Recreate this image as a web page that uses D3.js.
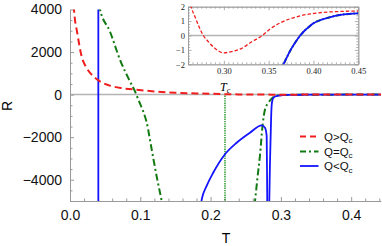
<!DOCTYPE html>
<html><head><meta charset="utf-8">
<script src="https://cdn.jsdelivr.net/npm/d3@7"></script>
<style>body{margin:0;background:#fff}svg{display:block}</style>
</head><body>
<svg id="c" width="382" height="246"></svg>
<script>
// ---- data (T, R) ----
const redQgt = [[0.0050,4700],[0.0057,4000],[0.0104,2885],[0.0166,1790],[0.0237,1250],[0.0332,860],[0.0427,620],[0.057,420],[0.075,300],[0.098,220],[0.12,150],[0.15,85],[0.18,55],[0.20,38],[0.22,22],[0.24,10],[0.255,4.5],[0.2634,2],[0.2678,1.3],[0.2771,0],[0.2827,-0.43],[0.290,-0.89],[0.2995,-1.2],[0.3088,-1.12],[0.32,-0.89],[0.3312,-0.43],[0.343,0],[0.3517,0.46],[0.362,0.85],[0.374,1.16],[0.385,1.36],[0.3964,1.5],[0.41,1.6],[0.426,1.66],[0.45,1.7]];
const greenLeft = [[0.0410,4250],[0.0427,4000],[0.0569,2960],[0.0711,1640],[0.0853,620],[0.0925,150],[0.098,-300],[0.1038,-760],[0.109,-1300],[0.1166,-2650],[0.1233,-3850],[0.1304,-5000],[0.1315,-5200]];
const greenRight = [[0.2625,-5200],[0.2632,-5000],[0.2667,-3900],[0.2703,-2840],[0.2741,-1400],[0.2774,-700],[0.2821,-390],[0.2869,-190],[0.294,-50],[0.30,-25],[0.31,-15],[0.32,-9],[0.33,-6],[0.345,-3.5],[0.36,-2.5],[0.3665,-2],[0.37,-1.55],[0.375,-0.95],[0.38,-0.45],[0.3852,0],[0.39,0.33],[0.395,0.6],[0.40,0.85],[0.41,1.12],[0.42,1.3],[0.43,1.43],[0.44,1.5],[0.45,1.54]];
const bluePole = [[0.0403,4200],[0.0403,-5200]];
const blueMid = [[0.1860,-5200],[0.1873,-4945],[0.1944,-4290],[0.2039,-3660],[0.2205,-2800],[0.2371,-2260],[0.256,-1790],[0.2727,-1450],[0.2774,-1560],[0.2798,-1950],[0.2806,-4950],[0.2807,-5200]];
const blueRight = [[0.2834,-5200],[0.2835,-5000],[0.2845,-3200],[0.2855,-1900],[0.2862,-1000],[0.2869,-500],[0.2880,-260],[0.2892,-155],[0.2925,-80],[0.2963,-50],[0.302,-28],[0.31,-15],[0.32,-9],[0.33,-6],[0.345,-3.5],[0.36,-2.5],[0.3665,-2],[0.37,-1.55],[0.375,-0.95],[0.38,-0.45],[0.3852,0],[0.39,0.33],[0.395,0.6],[0.40,0.85],[0.41,1.12],[0.42,1.3],[0.43,1.43],[0.44,1.5],[0.45,1.54]];
const Tc = 0.2205;
const xTicks = [0, 0.1, 0.2, 0.3, 0.4];
const yTicks = [-4000, -2000, 0, 2000, 4000];
const insetXTicks = [0.30, 0.35, 0.40, 0.45];
const insetYTicks = [-2, -1, 0, 1, 2];
const legendLabels = [["Q>Q","c"],["Q=Q","c"],["Q<Q","c"]];

const RED = "#f01e1e", GREEN = "#127a12", BLUE = "#1414ff", AX = "#9a9a9a", ZERO = "#b4b4b4";

const svg = d3.select("#c");
const x = d3.scaleLinear().domain([0, 0.442]).range([70, 380.7]);
const y = d3.scaleLinear().domain([-5000, 4000]).range([201, 9.5]);

svg.append("clipPath").attr("id","mc").append("rect")
  .attr("x",70).attr("y",9.5).attr("width",311).attr("height",191.5);

// zero line
svg.append("line").attr("x1",70).attr("x2",381).attr("y1",y(0)).attr("y2",y(0))
  .attr("stroke",ZERO).attr("stroke-width",1.5);

// axes
svg.append("g").attr("transform",`translate(0,${y(-5000)})`)
  .call(d3.axisBottom(x).tickValues(xTicks).tickFormat(d3.format(".1f")).tickSizeInner(-4).tickSizeOuter(0).tickPadding(9));
svg.append("g").attr("transform",`translate(${x(0)},0)`)
  .call(d3.axisLeft(y).tickValues(yTicks).tickFormat(d3.format("d")).tickSizeInner(-4).tickSizeOuter(0).tickPadding(8));
// minor ticks
const xMinor = d3.range(0, 0.4421, 0.02).filter(v => !xTicks.some(t => Math.abs(t-v)<1e-9));
const yMinor = d3.range(-5000, 4001, 500).filter(v => !yTicks.includes(v));
svg.append("g").attr("transform",`translate(0,${y(-5000)})`)
  .call(d3.axisBottom(x).tickValues(xMinor).tickFormat("").tickSizeInner(-2.5).tickSizeOuter(0));
svg.append("g").attr("transform",`translate(${x(0)},0)`)
  .call(d3.axisLeft(y).tickValues(yMinor).tickFormat("").tickSizeInner(-2.5).tickSizeOuter(0));
svg.selectAll(".domain, .tick line").attr("stroke",AX);
svg.selectAll(".tick text").attr("font-family","'Liberation Sans', Arial, sans-serif")
  .attr("font-size",14).attr("fill","#111");

// axis titles
svg.append("text").attr("x",226).attr("y",243).attr("text-anchor","middle")
  .attr("font-family","'Liberation Sans', Arial, sans-serif").attr("font-size",14).text("T");
svg.append("text").attr("transform","translate(12,106) rotate(-90)").attr("text-anchor","middle")
  .attr("font-family","'Liberation Sans', Arial, sans-serif").attr("font-size",14).text("R");

// Tc line
const xtc = x(Tc);
svg.append("line").attr("x1",xtc).attr("x2",xtc).attr("y1",y(0)+1).attr("y2",y(-5000))
  .attr("stroke","#1c921c").attr("stroke-width",1.4).attr("stroke-dasharray","1.4,0.9");
const tcl = svg.append("text").attr("x",x(Tc)-5).attr("y",91)
  .attr("font-family","'Liberation Serif', serif").attr("font-style","italic").attr("font-size",12);
tcl.append("tspan").text("T");
tcl.append("tspan").attr("font-size",8).attr("dy",2).text("c");

// curves main
const mline = d3.line().x(d=>x(d[0])).y(d=>y(d[1])).curve(d3.curveMonotoneX);
const lin = d3.line().x(d=>x(d[0])).y(d=>y(d[1]));
const mc = svg.append("g").attr("clip-path","url(#mc)");
const gStyle = {stroke:GREEN,"stroke-width":2,"stroke-dasharray":"7,3,2,3",fill:"none"};
const bStyle = {stroke:BLUE,"stroke-width":1.8,fill:"none"};
const rStyle = {stroke:RED,"stroke-width":2,"stroke-dasharray":"7,4",fill:"none"};
function sty(sel, s){ for (const k in s) sel.attr(k, s[k]); return sel; }
sty(mc.append("path").attr("d", mline(greenLeft)), gStyle);
sty(mc.append("path").attr("d", mline(greenRight)), gStyle);
sty(mc.append("path").attr("d", lin(bluePole)), bStyle);
sty(mc.append("path").attr("d", mline(blueMid)), bStyle);
sty(mc.append("path").attr("d", mline(blueRight)), bStyle);
sty(mc.append("path").attr("d", mline(redQgt)), rStyle);

// legend
const lg = svg.append("g");
const lstyles = [rStyle, gStyle, bStyle];
const ly = [136.5, 151.5, 166];
legendLabels.forEach((lab,i)=>{
  const s = Object.assign({}, lstyles[i]);
  if (i===0) s["stroke-dasharray"]="6,4";
  if (i===1) s["stroke-dasharray"]="6,3,2,3";
  sty(lg.append("line").attr("x1",300).attr("x2",318.5).attr("y1",ly[i]).attr("y2",ly[i]), s);
  const t = lg.append("text").attr("x",324).attr("y",ly[i]+4)
    .attr("font-family","'Liberation Sans', Arial, sans-serif").attr("font-size",11.5).attr("fill","#111");
  t.append("tspan").text(lab[0]);
  t.append("tspan").attr("font-size",8).attr("dy",2.5).text(lab[1]);
});

// ---- inset ----
const ix = d3.scaleLinear().domain([0.26, 0.45]).range([188, 358.3]);
const iy = d3.scaleLinear().domain([-2, 2]).range([64.3, 6.7]);
const ig = svg.append("g");
ig.append("rect").attr("x",172).attr("y",0).attr("width",210).attr("height",80).attr("fill","#fff");
svg.append("clipPath").attr("id","ic").append("rect")
  .attr("x",188).attr("y",6.7).attr("width",170.3).attr("height",57.6);
ig.append("line").attr("x1",188).attr("x2",358.3).attr("y1",iy(0)).attr("y2",iy(0))
  .attr("stroke",ZERO).attr("stroke-width",1.3);
const serif = "'Liberation Serif', 'Times New Roman', serif";
const iMinX = d3.range(0.26, 0.4501, 0.005).filter(v => !insetXTicks.some(t => Math.abs(t-v)<1e-9));
const iMinY = d3.range(-2, 2.001, 0.2).filter(v => !insetYTicks.some(t => Math.abs(t-v)<1e-9));
function iax(gen, scale, tv, size, fmt, pad){
  return gen(scale).tickValues(tv).tickSizeInner(size).tickSizeOuter(0).tickPadding(pad).tickFormat(fmt);
}
ig.append("g").attr("transform","translate(0,64.3)").call(iax(d3.axisBottom, ix, insetXTicks, -3.5, d3.format(".2f"), 4));
ig.append("g").attr("transform","translate(0,64.3)").call(iax(d3.axisBottom, ix, iMinX, -2, "", 0));
ig.append("g").attr("transform","translate(0,6.7)").call(iax(d3.axisTop, ix, insetXTicks, -3.5, "", 0));
ig.append("g").attr("transform","translate(0,6.7)").call(iax(d3.axisTop, ix, iMinX, -2, "", 0));
ig.append("g").attr("transform","translate(188,0)").call(iax(d3.axisLeft, iy, insetYTicks, -3.5, d3.format("d"), 3));
ig.append("g").attr("transform","translate(188,0)").call(iax(d3.axisLeft, iy, iMinY, -2, "", 0));
ig.append("g").attr("transform","translate(358.3,0)").call(iax(d3.axisRight, iy, insetYTicks, -3.5, "", 0));
ig.append("g").attr("transform","translate(358.3,0)").call(iax(d3.axisRight, iy, iMinY, -2, "", 0));
ig.selectAll(".domain, .tick line").attr("stroke",AX).attr("stroke-width",0.8);
ig.selectAll(".tick text").attr("font-family",serif).attr("font-size",8.5).attr("fill","#222");

const iline = d3.line().x(d=>ix(d[0])).y(d=>iy(d[1])).curve(d3.curveMonotoneX);
const ic = ig.append("g").attr("clip-path","url(#ic)");
ic.append("path").attr("d", iline(greenRight)).attr("stroke",GREEN).attr("stroke-width",2).attr("fill","none").attr("stroke-dasharray","5,2,1.5,2");
ic.append("path").attr("d", iline(blueRight)).attr("stroke",BLUE).attr("stroke-width",1.8).attr("fill","none");
ic.append("path").attr("d", iline(redQgt)).attr("stroke",RED).attr("stroke-width",1.3).attr("fill","none").attr("stroke-dasharray","3.5,2");
</script>
</body></html>
